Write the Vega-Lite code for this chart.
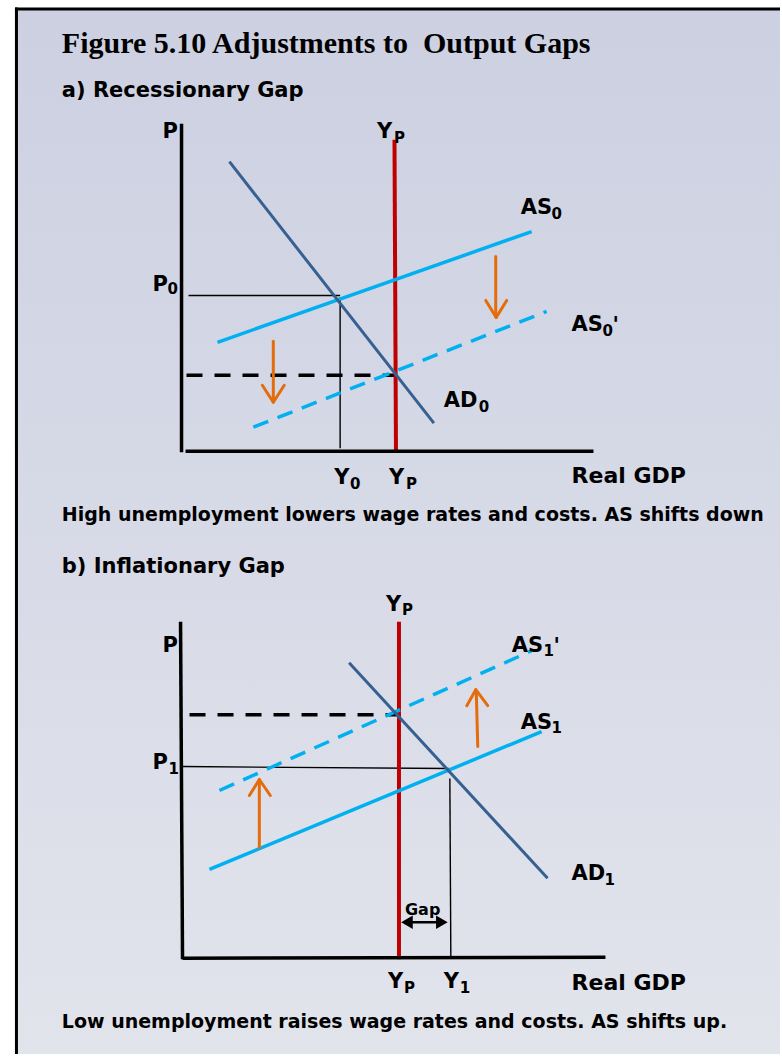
{
  "$schema": "https://vega.github.io/schema/vega-lite/v6.json",
  "width": 782,
  "height": 1056,
  "padding": 0,
  "autosize": {"type": "fit", "contains": "padding"},
  "background": "white",
  "config": {"view": {"stroke": null}},
  "datasets": {
    "bg": [{"x": 15, "y": 8, "x2": 782, "y2": 1056}],
    "frame": [
      {"x": 16.5, "y": 7.5, "x2": 16.5, "y2": 1056},
      {"x": 15, "y": 9, "x2": 782, "y2": 9}
    ],
    "segs": [
      {"k": "guide", "x": 189, "y": 296, "x2": 341, "y2": 296},
      {"k": "guide", "x": 341, "y": 298, "x2": 341, "y2": 449},
      {"k": "dguide", "x": 187, "y": 376, "x2": 398, "y2": 376},
      {"k": "as", "x": 218, "y": 343, "x2": 533, "y2": 232},
      {"k": "asd", "x": 254, "y": 428, "x2": 548, "y2": 312},
      {"k": "ad", "x": 230, "y": 162, "x2": 435, "y2": 424},
      {"k": "yp", "x": 395.5, "y": 140, "x2": 397, "y2": 452},
      {"k": "axis", "x": 182, "y": 124, "x2": 182, "y2": 453},
      {"k": "axis", "x": 186, "y": 452, "x2": 595, "y2": 452},
      {"k": "shift", "x": 274, "y": 342, "x2": 274, "y2": 401},
      {"k": "shift", "x": 263, "y": 386, "x2": 274, "y2": 403},
      {"k": "shift", "x": 285, "y": 386, "x2": 274, "y2": 403},
      {"k": "shift", "x": 497, "y": 257, "x2": 497, "y2": 316},
      {"k": "shift", "x": 487, "y": 301, "x2": 497.5, "y2": 318},
      {"k": "shift", "x": 508, "y": 301, "x2": 497.5, "y2": 318},
      {"k": "guide", "x": 183, "y": 768, "x2": 450, "y2": 770},
      {"k": "guide", "x": 451, "y": 780, "x2": 452, "y2": 960},
      {"k": "dguide", "x": 190, "y": 716, "x2": 402, "y2": 716},
      {"k": "as", "x": 210, "y": 871, "x2": 543, "y2": 733},
      {"k": "asd", "x": 220, "y": 792, "x2": 533, "y2": 652},
      {"k": "ad", "x": 350, "y": 664, "x2": 549, "y2": 880},
      {"k": "yp", "x": 400, "y": 623, "x2": 400, "y2": 961},
      {"k": "axis", "x": 181, "y": 623, "x2": 183, "y2": 961},
      {"k": "axis", "x": 183, "y": 960, "x2": 607, "y2": 959},
      {"k": "shift", "x": 260, "y": 849, "x2": 260, "y2": 783},
      {"k": "shift", "x": 250, "y": 797, "x2": 260, "y2": 781},
      {"k": "shift", "x": 271, "y": 797, "x2": 260, "y2": 781},
      {"k": "shift", "x": 479, "y": 748, "x2": 477.5, "y2": 693},
      {"k": "shift", "x": 468, "y": 707, "x2": 477, "y2": 691},
      {"k": "shift", "x": 489, "y": 707, "x2": 477, "y2": 691},
      {"k": "gap", "x": 405, "y": 924, "x2": 446, "y2": 924}
    ],
    "heads": [
      {"dir": "left", "x": 408, "y": 924},
      {"dir": "right", "x": 443, "y": 924}
    ],
    "texts": [
      {"role": "title", "t": "Figure 5.10 Adjustments to \u00a0Output Gaps", "x": 62, "y": 53},
      {"role": "head", "t": "a) Recessionary Gap", "x": 62, "y": 97},
      {"role": "lab", "t": "P", "x": 163, "y": 138},
      {"role": "lab", "t": "Y", "x": 378, "y": 138},
      {"role": "sub", "t": "P", "x": 395, "y": 143},
      {"role": "lab", "t": "P", "x": 153, "y": 292},
      {"role": "sub", "t": "0", "x": 168, "y": 295},
      {"role": "lab", "t": "AS", "x": 522, "y": 214},
      {"role": "sub", "t": "0", "x": 553, "y": 219},
      {"role": "lab", "t": "AS", "x": 573, "y": 332},
      {"role": "sub", "t": "0", "x": 604, "y": 337},
      {"role": "lab", "t": "'", "x": 614, "y": 333},
      {"role": "lab", "t": "AD", "x": 445, "y": 408},
      {"role": "sub", "t": "0", "x": 480, "y": 413},
      {"role": "lab", "t": "Y", "x": 335, "y": 485},
      {"role": "sub", "t": "0", "x": 351, "y": 490},
      {"role": "lab", "t": "Y", "x": 390, "y": 485},
      {"role": "sub", "t": "P", "x": 407, "y": 490},
      {"role": "gdp", "t": "Real GDP", "x": 573, "y": 484},
      {"role": "cap", "t": "High unemployment lowers wage rates and costs. AS shifts down", "x": 62, "y": 522},
      {"role": "head", "t": "b) Inflationary Gap", "x": 62, "y": 574},
      {"role": "lab", "t": "Y", "x": 387, "y": 612},
      {"role": "sub", "t": "P", "x": 403, "y": 616},
      {"role": "lab", "t": "P", "x": 163, "y": 653},
      {"role": "lab", "t": "P", "x": 153, "y": 770},
      {"role": "sub", "t": "1", "x": 169, "y": 775},
      {"role": "lab", "t": "AS", "x": 513, "y": 653},
      {"role": "sub", "t": "1", "x": 545, "y": 657},
      {"role": "lab", "t": "'", "x": 555, "y": 654},
      {"role": "lab", "t": "AS", "x": 522, "y": 730},
      {"role": "sub", "t": "1", "x": 553, "y": 734},
      {"role": "lab", "t": "AD", "x": 573, "y": 882},
      {"role": "sub", "t": "1", "x": 606, "y": 887},
      {"role": "gaplab", "t": "Gap", "x": 406, "y": 917},
      {"role": "lab", "t": "Y", "x": 389, "y": 990},
      {"role": "sub", "t": "P", "x": 405, "y": 995},
      {"role": "lab", "t": "Y", "x": 445, "y": 990},
      {"role": "sub", "t": "1", "x": 461, "y": 995},
      {"role": "gdp", "t": "Real GDP", "x": 573, "y": 992},
      {"role": "cap", "t": "Low unemployment raises wage rates and costs. AS shifts up.", "x": 62, "y": 1030}
    ]
  },
  "encoding": {
    "x": {"field": "x", "type": "quantitative", "scale": {"domain": [0, 782], "nice": false, "zero": false}, "axis": null},
    "y": {"field": "y", "type": "quantitative", "scale": {"domain": [0, 1056], "nice": false, "zero": false, "reverse": true}, "axis": null}
  },
  "layer": [
    {
      "data": {"name": "bg"},
      "mark": {"type": "rect", "color": {"gradient": "linear", "x1": 0, "y1": 0, "x2": 0, "y2": 1, "stops": [{"offset": 0, "color": "#CCD0E1"}, {"offset": 1, "color": "#E2E4EC"}]}},
      "encoding": {"x2": {"field": "x2"}, "y2": {"field": "y2"}}
    },
    {
      "data": {"name": "frame"},
      "mark": {"type": "rule", "color": "black", "strokeWidth": 3},
      "encoding": {"x2": {"field": "x2"}, "y2": {"field": "y2"}}
    },
    {
      "data": {"name": "segs"},
      "transform": [{"filter": "datum.k == 'guide'"}],
      "mark": {"type": "rule", "color": "black", "strokeWidth": 1.4},
      "encoding": {"x2": {"field": "x2"}, "y2": {"field": "y2"}}
    },
    {
      "data": {"name": "segs"},
      "transform": [{"filter": "datum.k == 'dguide'"}],
      "mark": {"type": "rule", "color": "black", "strokeWidth": 3.5, "strokeDash": [16, 12]},
      "encoding": {"x2": {"field": "x2"}, "y2": {"field": "y2"}}
    },
    {
      "data": {"name": "segs"},
      "transform": [{"filter": "datum.k == 'yp'"}],
      "mark": {"type": "rule", "color": "#C00000", "strokeWidth": 4},
      "encoding": {"x2": {"field": "x2"}, "y2": {"field": "y2"}}
    },
    {
      "data": {"name": "segs"},
      "transform": [{"filter": "datum.k == 'as'"}],
      "mark": {"type": "rule", "color": "#00B0F0", "strokeWidth": 3.5},
      "encoding": {"x2": {"field": "x2"}, "y2": {"field": "y2"}}
    },
    {
      "data": {"name": "segs"},
      "transform": [{"filter": "datum.k == 'asd'"}],
      "mark": {"type": "rule", "color": "#00B0F0", "strokeWidth": 3.5, "strokeDash": [16, 10]},
      "encoding": {"x2": {"field": "x2"}, "y2": {"field": "y2"}}
    },
    {
      "data": {"name": "segs"},
      "transform": [{"filter": "datum.k == 'ad'"}],
      "mark": {"type": "rule", "color": "#376092", "strokeWidth": 3},
      "encoding": {"x2": {"field": "x2"}, "y2": {"field": "y2"}}
    },
    {
      "data": {"name": "segs"},
      "transform": [{"filter": "datum.k == 'axis'"}],
      "mark": {"type": "rule", "color": "black", "strokeWidth": 3.5},
      "encoding": {"x2": {"field": "x2"}, "y2": {"field": "y2"}}
    },
    {
      "data": {"name": "segs"},
      "transform": [{"filter": "datum.k == 'shift'"}],
      "mark": {"type": "rule", "color": "#E46C0A", "strokeWidth": 3, "strokeCap": "round"},
      "encoding": {"x2": {"field": "x2"}, "y2": {"field": "y2"}}
    },
    {
      "data": {"name": "segs"},
      "transform": [{"filter": "datum.k == 'gap'"}],
      "mark": {"type": "rule", "color": "black", "strokeWidth": 2.5},
      "encoding": {"x2": {"field": "x2"}, "y2": {"field": "y2"}}
    },
    {
      "data": {"name": "heads"},
      "mark": {"type": "point", "filled": true, "color": "black", "size": 180, "opacity": 1},
      "encoding": {"shape": {"field": "dir", "type": "nominal", "scale": {"domain": ["left", "right"], "range": ["triangle-left", "triangle-right"]}, "legend": null}}
    },
    {
      "data": {"name": "texts"},
      "transform": [{"filter": "datum.role == 'title'"}],
      "mark": {"type": "text", "align": "left", "baseline": "alphabetic", "font": "Liberation Serif", "fontWeight": "bold", "fontSize": 30, "color": "black"},
      "encoding": {"text": {"field": "t"}}
    },
    {
      "data": {"name": "texts"},
      "transform": [{"filter": "datum.role == 'head'"}],
      "mark": {"type": "text", "align": "left", "baseline": "alphabetic", "font": "DejaVu Sans", "fontWeight": "bold", "fontSize": 21, "color": "black"},
      "encoding": {"text": {"field": "t"}}
    },
    {
      "data": {"name": "texts"},
      "transform": [{"filter": "datum.role == 'lab'"}],
      "mark": {"type": "text", "align": "left", "baseline": "alphabetic", "font": "DejaVu Sans", "fontWeight": "bold", "fontSize": 21, "color": "black"},
      "encoding": {"text": {"field": "t"}}
    },
    {
      "data": {"name": "texts"},
      "transform": [{"filter": "datum.role == 'sub'"}],
      "mark": {"type": "text", "align": "left", "baseline": "alphabetic", "font": "DejaVu Sans", "fontWeight": "bold", "fontSize": 15, "color": "black"},
      "encoding": {"text": {"field": "t"}}
    },
    {
      "data": {"name": "texts"},
      "transform": [{"filter": "datum.role == 'gdp'"}],
      "mark": {"type": "text", "align": "left", "baseline": "alphabetic", "font": "DejaVu Sans", "fontWeight": "bold", "fontSize": 22, "color": "black"},
      "encoding": {"text": {"field": "t"}}
    },
    {
      "data": {"name": "texts"},
      "transform": [{"filter": "datum.role == 'cap'"}],
      "mark": {"type": "text", "align": "left", "baseline": "alphabetic", "font": "DejaVu Sans", "fontWeight": "bold", "fontSize": 19, "color": "black"},
      "encoding": {"text": {"field": "t"}}
    },
    {
      "data": {"name": "texts"},
      "transform": [{"filter": "datum.role == 'gaplab'"}],
      "mark": {"type": "text", "align": "left", "baseline": "alphabetic", "font": "DejaVu Sans", "fontWeight": "bold", "fontSize": 16, "color": "black"},
      "encoding": {"text": {"field": "t"}}
    }
  ]
}
